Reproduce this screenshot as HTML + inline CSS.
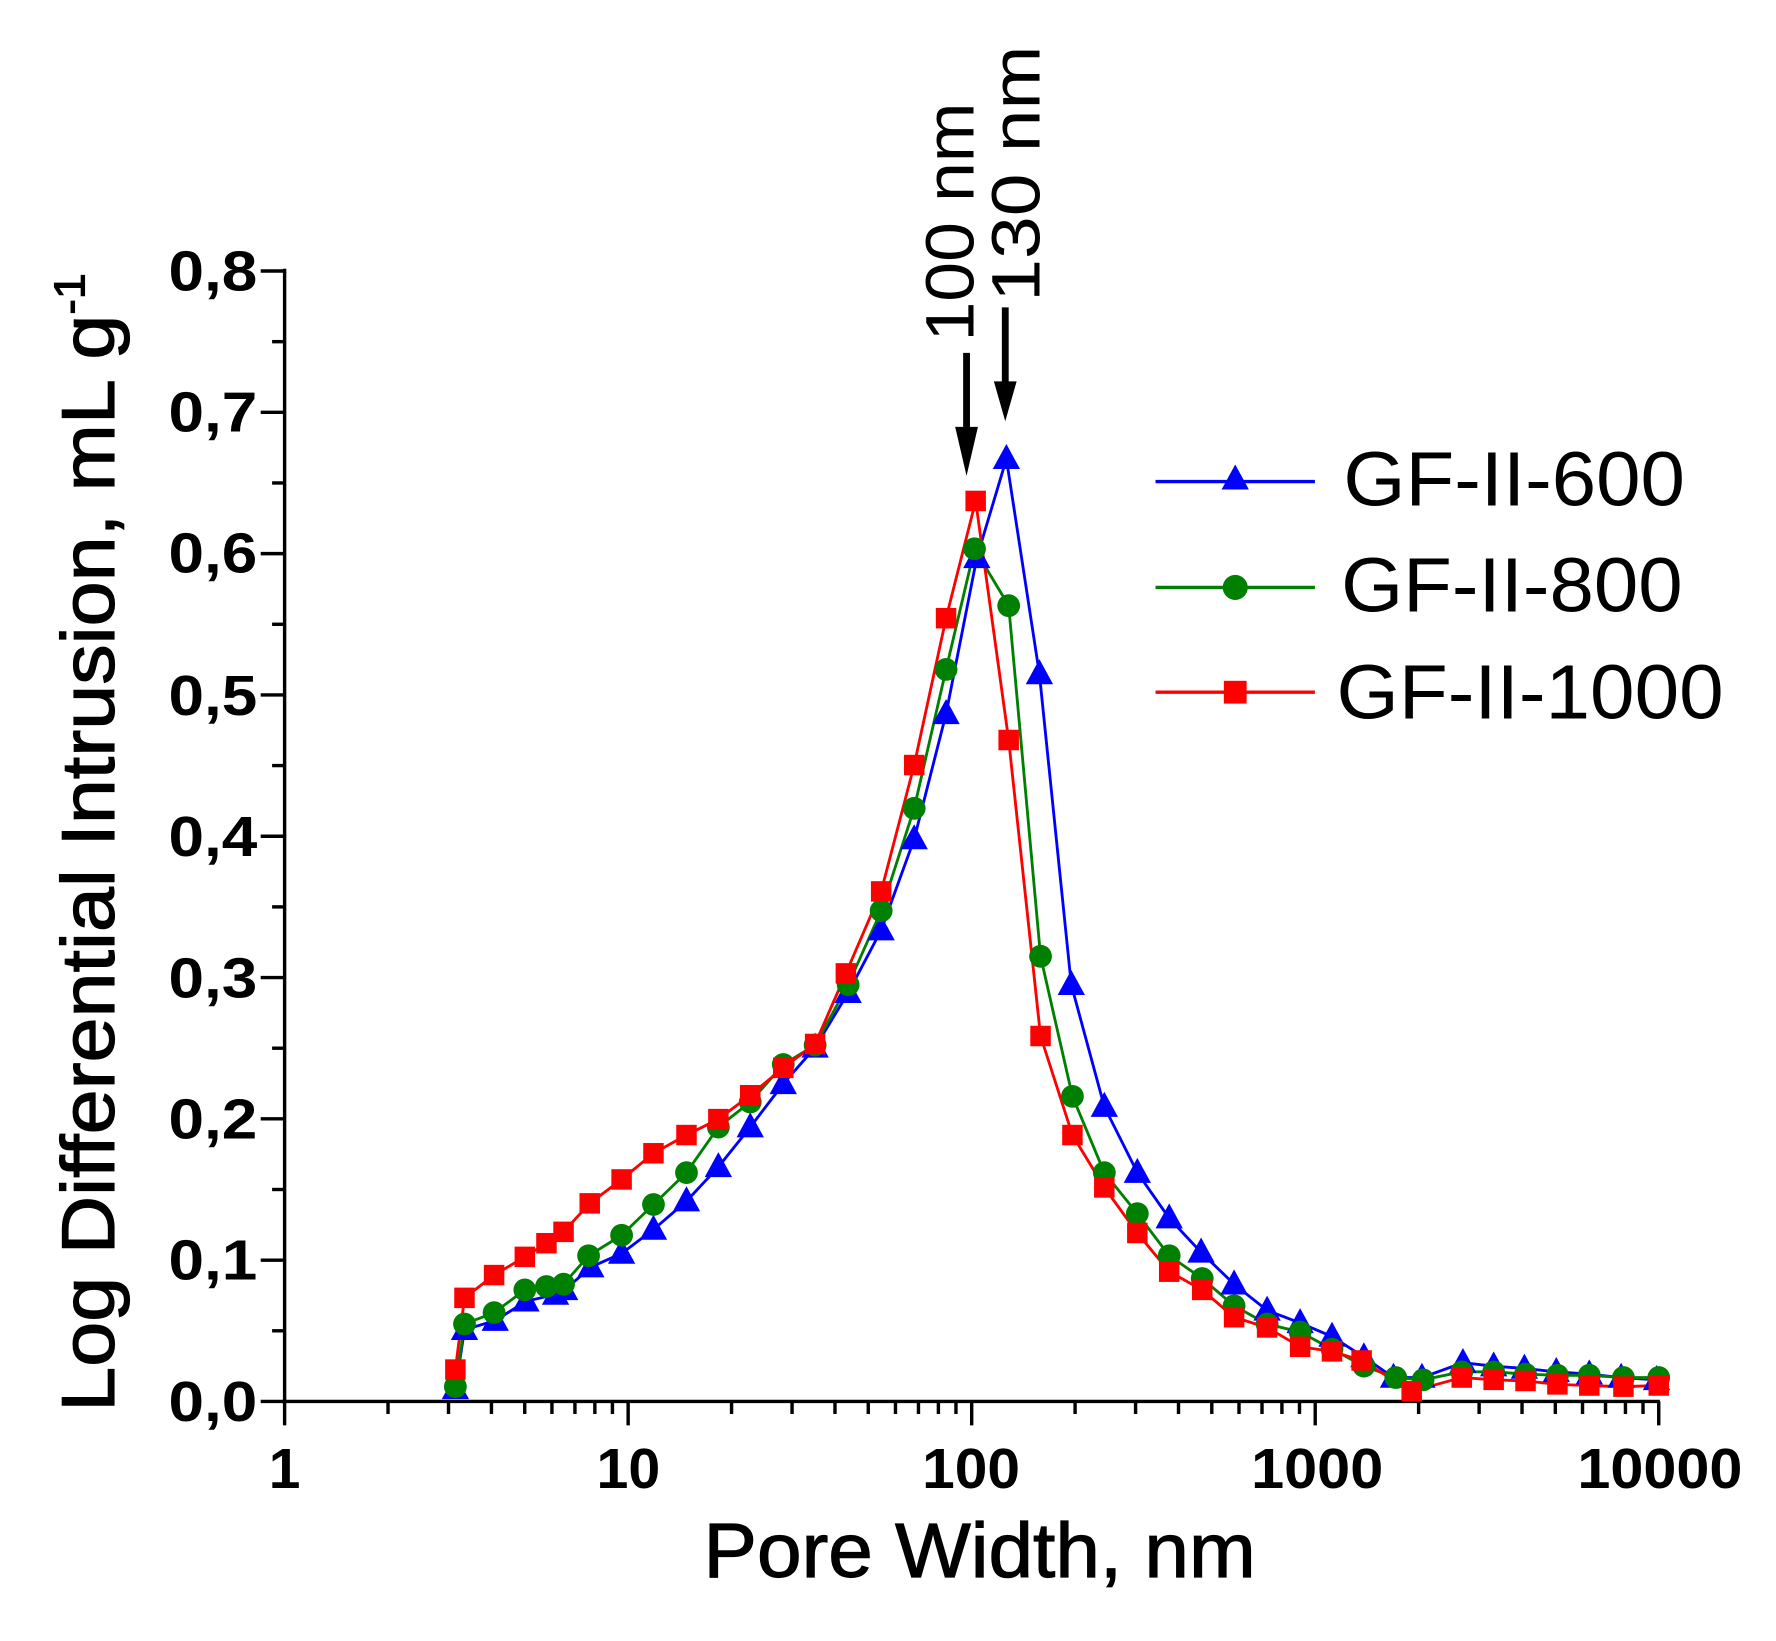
<!DOCTYPE html>
<html><head><style>html,body{margin:0;padding:0;background:#fff}svg{display:block}</style></head><body>
<svg width="1776" height="1641" viewBox="0 0 1560 1441.4" xmlns="http://www.w3.org/2000/svg" font-family="Liberation Sans, Arial, sans-serif">
<defs>
<path id="tri" d="M0,-13 L12,9 L-12,9 Z"/>
</defs>
<g stroke="#000" stroke-width="3" fill="none">
<line x1="250" y1="236" x2="250" y2="1232"/>
<line x1="248" y1="1231" x2="1458" y2="1231"/>
</g>
<g id="yt" stroke="#000" stroke-width="3"></g>
<g id="xt" stroke="#000" stroke-width="3"></g>
<g font-size="50" font-weight="bold" text-anchor="end">
<text x="226" y="1248" textLength="78" lengthAdjust="spacingAndGlyphs">0,0</text>
<text x="226" y="1124" textLength="78" lengthAdjust="spacingAndGlyphs">0,1</text>
<text x="226" y="1000" textLength="78" lengthAdjust="spacingAndGlyphs">0,2</text>
<text x="226" y="876" textLength="78" lengthAdjust="spacingAndGlyphs">0,3</text>
<text x="226" y="752" textLength="78" lengthAdjust="spacingAndGlyphs">0,4</text>
<text x="226" y="628" textLength="78" lengthAdjust="spacingAndGlyphs">0,5</text>
<text x="226" y="503" textLength="78" lengthAdjust="spacingAndGlyphs">0,6</text>
<text x="226" y="379" textLength="78" lengthAdjust="spacingAndGlyphs">0,7</text>
<text x="226" y="255" textLength="78" lengthAdjust="spacingAndGlyphs">0,8</text>
</g>
<g font-size="50" font-weight="bold" text-anchor="middle">
<text x="250" y="1307">1</text>
<text x="552" y="1307" textLength="56" lengthAdjust="spacingAndGlyphs">10</text>
<text x="853" y="1307" textLength="86" lengthAdjust="spacingAndGlyphs">100</text>
<text x="1157" y="1307" textLength="116" lengthAdjust="spacingAndGlyphs">1000</text>
<text x="1458" y="1307" textLength="145" lengthAdjust="spacingAndGlyphs">10000</text>
</g>
<text x="618" y="1385" font-size="68" stroke="#000" stroke-width="1" textLength="485" lengthAdjust="spacingAndGlyphs">Pore Width, nm</text>
<text transform="translate(100,1240) rotate(-90)" font-size="66" stroke="#000" stroke-width="1" textLength="1000" lengthAdjust="spacingAndGlyphs">Log Differential Intrusion, mL g<tspan dy="-26" font-size="38">-1</tspan></text>
<g stroke="#000" stroke-width="6"><line x1="849" y1="310" x2="849" y2="380"/><line x1="883" y1="270" x2="883" y2="340"/></g>
<path d="M839,375 L859,375 L849,418 Z M873,335 L893,335 L883,370 Z" fill="#000"/>
<text transform="translate(855,300) rotate(-90)" font-size="60" textLength="210" lengthAdjust="spacingAndGlyphs">100 nm</text>
<text transform="translate(913,265) rotate(-90)" font-size="60" textLength="225" lengthAdjust="spacingAndGlyphs">130 nm</text>
<g id="series"></g>
<g stroke-width="3">
<line x1="1015" y1="423" x2="1155" y2="423" stroke="#0000ff"/>
<line x1="1015" y1="516" x2="1155" y2="516" stroke="#008000"/>
<line x1="1015" y1="608" x2="1155" y2="608" stroke="#ff0000"/>
</g>
<use href="#tri" x="1085" y="421" fill="#0000ff"/>
<circle cx="1085" cy="516" r="11" fill="#008000"/>
<rect x="1075" y="598" width="20" height="20" fill="#ff0000"/>
<g font-size="68">
<text x="1180" y="444" textLength="300" lengthAdjust="spacingAndGlyphs">GF-II-600</text>
<text x="1178" y="537" textLength="300" lengthAdjust="spacingAndGlyphs">GF-II-800</text>
<text x="1174" y="631" textLength="340" lengthAdjust="spacingAndGlyphs">GF-II-1000</text>
</g>
</svg>
<script>
const NS="http://www.w3.org/2000/svg";
function el(p,t,a){const e=document.createElementNS(NS,t);for(const k in a)e.setAttribute(k,a[k]);p.appendChild(e);return e;}
const yt=document.getElementById('yt');
for(let i=0;i<=16;i++){const y=1231-i*62.06;el(yt,'line',{x1:i%2?239:229,y1:y,x2:250,y2:y});}
const xt=document.getElementById('xt');
for(let d=0;d<4;d++)for(let m=1;m<=10;m++){if(m==10&&d<3)continue;const x=250+301.75*(d+Math.log10(m));el(xt,'line',{x1:x,y1:1231,x2:x,y2:(m==1||m==10)?1252:1242});}
const B=[[400,1220],[408,1168],[435,1160],[462,1143],[488,1137],[496,1133],[519,1113],[546,1101],[574,1080],[603,1055],[631,1025],[659,990],[688,952],[716,920],[745,872],[774,817],[803,737],[831,627],[858,490],[884,403],[913,592],[941,865],[970,972],[999,1030],[1027,1070],[1055,1100],[1084,1128],[1113,1151],[1142,1162],[1170,1174],[1198,1192],[1224,1210],[1249,1210],[1285,1197],[1312,1200],[1339,1202],[1367,1205],[1396,1207],[1424,1210],[1455,1212]];
const G=[[400,1218],[408,1163],[434,1153],[461,1133],[480,1130],[495,1128],[517,1103],[546,1085],[574,1058],[603,1030],[631,990],[659,968],[688,935],[716,918],[745,865],[774,800],[803,710],[831,588],[856,482],[886,532],[914,840],[942,963],[970,1030],[999,1066],[1027,1103],[1056,1123],[1084,1147],[1113,1163],[1142,1170],[1170,1185],[1198,1200],[1226,1210],[1250,1212],[1284,1205],[1312,1205],[1340,1207],[1368,1208],[1396,1208],[1426,1210],[1457,1210]];
const R=[[400,1203],[408,1140],[434,1120],[461,1104],[480,1092],[495,1082],[518,1057],[546,1036],[574,1013],[603,997],[631,983],[659,962],[688,938],[716,917],[743,855],[774,783],[803,672],[831,543],[857,440],[886,650],[914,910],[942,997],[970,1043],[999,1083],[1027,1117],[1056,1133],[1084,1157],[1113,1166],[1142,1183],[1170,1187],[1196,1195],[1240,1222],[1284,1210],[1312,1212],[1340,1213],[1368,1216],[1396,1217],[1426,1218],[1457,1217]];
const S=document.getElementById('series');
function line(d,c){el(S,'polyline',{points:d.map(p=>p.join(',')).join(' '),fill:'none',stroke:c,'stroke-width':2.5});}
line(B,'#0000ff');line(G,'#008000');line(R,'#ff0000');
B.forEach(p=>el(S,'use',{href:'#tri',x:p[0],y:p[1],fill:'#0000ff'}));
G.forEach(p=>el(S,'circle',{cx:p[0],cy:p[1],r:10,fill:'#008000'}));
R.forEach(p=>el(S,'rect',{x:p[0]-9,y:p[1]-9,width:18,height:18,fill:'#ff0000'}));
</script>
</body></html>
